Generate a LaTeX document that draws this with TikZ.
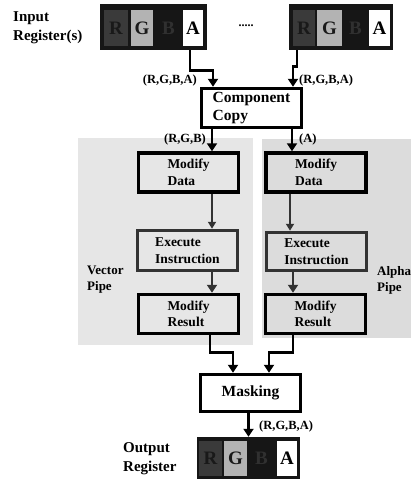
\documentclass[tikz,border=0pt]{standalone}
\usepackage{fontspec}
\setmainfont{Liberation Serif}
\usetikzlibrary{arrows.meta,calc}
\definecolor{panelL}{HTML}{E6E6E6}
\definecolor{panelR}{HTML}{DCDCDC}
\definecolor{cellR}{HTML}{3A3A3A}
\definecolor{cellG}{HTML}{B3B3B3}
\definecolor{cellB}{HTML}{161616}
\definecolor{txtB}{HTML}{303030}
\definecolor{edgeG}{HTML}{333333}
\begin{document}
\begin{tikzpicture}[x=1pt,y=-1pt,
  panel/.style={draw=none, inner sep=0pt},
  box/.style={draw=black, line width=3.5pt, minimum width=100pt, minimum height=39pt,
    inner sep=0pt, align=left, font=\bfseries\fontsize{13.5}{16.5}\selectfont},
  wbox/.style={box, fill=white, font=\bfseries\fontsize{15.5}{18.5}\selectfont},
  ebox/.style={box, draw=edgeG},
  reg/.style={draw=none, fill=cellB, inner sep=0pt, minimum height=46pt},
  cell/.style={inner sep=0pt, minimum height=36pt, font=\bfseries\fontsize{19}{20}\selectfont},
  lbl/.style={inner sep=0pt, font=\bfseries\fontsize{12.5}{14}\selectfont},
  side/.style={inner sep=0pt, align=left, font=\bfseries\fontsize{15}{19}\selectfont},
  pipe/.style={inner sep=0pt, align=left, font=\bfseries\fontsize{13}{16}\selectfont},
  conn/.style={line width=2.6pt, -{Triangle[width=10pt,length=8pt]}},
  thin/.style={line width=2pt, draw=edgeG, -{Triangle[width=8pt,length=7pt]}}
]
\useasboundingbox (0,0) rectangle (411,479);
\fill[white] (0,0) rectangle (411,479);

% pipe panels
\node[panel, fill=panelL, minimum width=175pt, minimum height=207pt] (vpanel) at (165.5,241.5) {};
\node[panel, fill=panelR, minimum width=149pt, minimum height=199pt] (apanel) at (336.5,238.5) {};

% input registers
\node[reg, minimum width=107pt] (reg1) at (153.5,27) {};
\node[cell, fill=cellR, text=black!90, minimum width=24pt] (reg1R) at (116,28) {R};
\node[cell, fill=cellG, text=black!90, minimum width=22pt] (reg1G) at (142,28) {G};
\node[cell, fill=cellB, text=txtB, minimum width=27pt] (reg1B) at (168.5,28) {B};
\node[cell, fill=white, text=black, minimum width=20pt] (reg1A) at (193,28) {A};

\node[reg, minimum width=104pt] (reg2) at (341,27) {};
\node[cell, fill=cellR, text=black!90, minimum width=22pt] (reg2R) at (304,28) {R};
\node[cell, fill=cellG, text=black!90, minimum width=25pt] (reg2G) at (329.5,28) {G};
\node[cell, fill=cellB, text=txtB, minimum width=25pt] (reg2B) at (355.5,28) {B};
\node[cell, fill=white, text=black, minimum width=21pt] (reg2A) at (379.5,28) {A};

\node[inner sep=0pt, font=\bfseries\fontsize{12}{12}\selectfont] (dots) at (246,26) {.....};
\node[side, anchor=west] (inlbl) at (13,28) {Input\\Register(s)};

% boxes
\node[wbox] (copy) at (251.5,108) {Component\\Copy};
\node[box] (mdl) at (188.5,172.5) {Modify\\Data};
\node[box] (mdr) at (316,172.5) {Modify\\Data};
\node[ebox, minimum height=40pt] (eil) at (187.5,250.5) {Execute\\Instruction};
\node[ebox, minimum height=38pt] (eir) at (316.5,251.5) {Execute\\Instruction};
\node[box] (mrl) at (188.5,314) {Modify\\Result};
\node[box] (mrr) at (315.5,314) {Modify\\Result};
\node[wbox, minimum height=37pt, align=center] (mask) at (250.5,393) {Masking};

% output register
\node[reg, minimum width=103pt, minimum height=42pt] (out) at (248.5,458) {};
\node[cell, fill=cellR, text=black!90, minimum width=23pt, minimum height=35pt] (outR) at (210.5,458.5) {R};
\node[cell, fill=cellG, text=black!90, minimum width=23pt, minimum height=35pt] (outG) at (235.5,458.5) {G};
\node[cell, fill=cellB, text=txtB, minimum width=27pt, minimum height=35pt] (outB) at (261.5,458.5) {B};
\node[cell, fill=white, text=black, minimum width=20pt, minimum height=35pt] (outA) at (287,458.5) {A};
\node[side, anchor=west] (outlbl) at (123,459) {Output\\Register};

% side labels
\node[pipe, anchor=west] (vlbl) at (87,280) {Vector\\Pipe};
\node[pipe, anchor=west] (albl) at (377,280.5) {Alpha\\Pipe};

% connector labels
\node[lbl, anchor=east] (l1) at (197,80) {(R,G,B,A)};
\node[lbl, anchor=west] (l2) at (299,80) {(R,G,B,A)};
\node[lbl, anchor=east] (l3) at (206,139) {(R,G,B)};
\node[lbl, anchor=west] (l4) at (299,139) {(A)};
\node[lbl, anchor=west] (l5) at (259,426) {(R,G,B,A)};

% connectors
\draw[conn] ($(reg1.south -| reg1A)+(-3,0)$) -- ++(0,20) -| ($(copy.north)+(-38.5,0)$);
\draw[conn] ($(reg2.south -| reg2R)+(-7,0)$) -- ++(0,16) -| ($(copy.north)+(41.5,0)$);
\draw[conn] ($(copy.south)+(-39.5,0)$) -- ($(mdl.north)+(23.5,0)$);
\draw[conn] ($(copy.south)+(40.5,0)$) -- ($(mdr.north)+(-24,0)$);
\draw[thin] ($(mdl.south)+(23.5,0)$) -- ($(eil.north)+(24.5,0)$);
\draw[thin] ($(mdr.south)+(-26,0)$) -- ($(eir.north)+(-26.5,0)$);
\draw[conn, draw=edgeG] ($(eil.south)+(24.5,0)$) -- ($(mrl.north)+(23.5,0)$);
\draw[conn, draw=edgeG] ($(eir.south)+(-23.5,0)$) -- ($(mrr.north)+(-22.5,0)$);
\draw[conn] ($(mrl.south)+(21.5,0)$) -- ++(0,17) -| ($(mask.north)+(-17.5,0)$);
\draw[conn] ($(mrr.south)+(-22.5,0)$) -- ++(0,17) -| ($(mask.north)+(18.5,0)$);
\draw[conn] (mask.south -| out.north) -- (out.north);
\end{tikzpicture}
\end{document}
